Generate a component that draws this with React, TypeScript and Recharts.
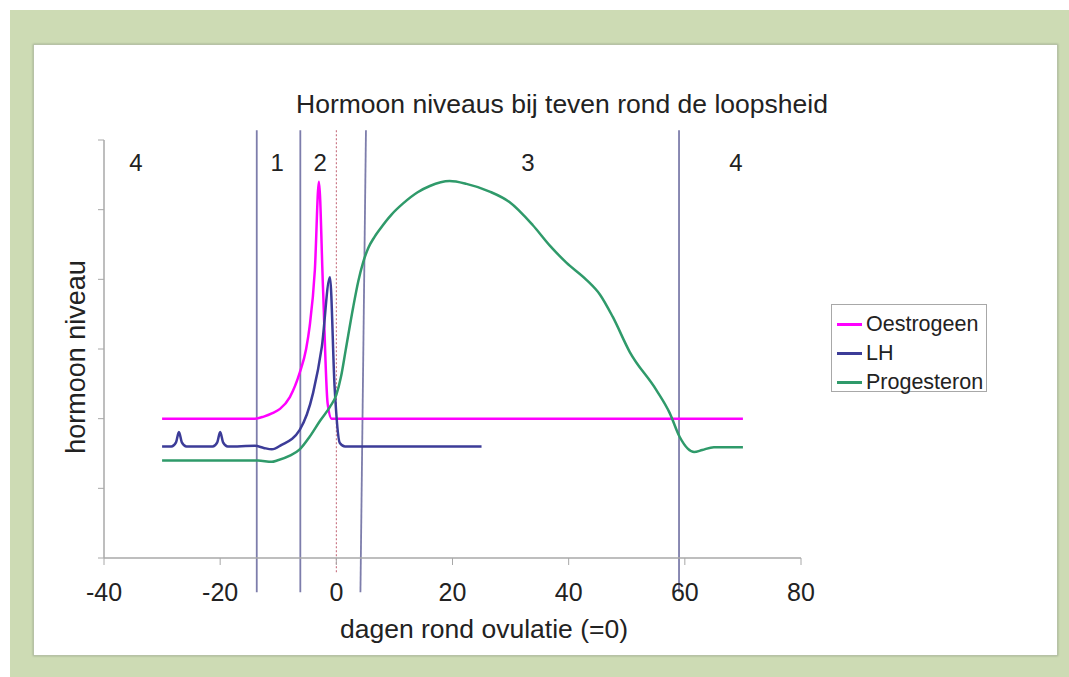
import {
  LineChart,
  Line,
  XAxis,
  YAxis,
  Legend,
  ReferenceLine,
  ReferenceDot,
} from "recharts";

const FONT = '"Liberation Sans", Arial, sans-serif';

const xTicks = [-40, -20, 0, 20, 40, 60, 80];
const yTicks = [0, 1, 2, 3, 4, 5, 6];

const seriesNames = ["Oestrogeen", "LH", "Progesteron"];
const seriesColors = ["#ff00ff", "#3c3c98", "#2f9a6a"];

const oestrogeen = [
  { x: -30, y: 2.0 }, { x: -14, y: 2.0 }, { x: -12.5, y: 2.03 }, { x: -11, y: 2.08 },
  { x: -9.7, y: 2.14 }, { x: -8, y: 2.31 }, { x: -6.3, y: 2.66 }, { x: -5.2, y: 3.0 },
  { x: -4.6, y: 3.32 }, { x: -3.7, y: 4.13 }, { x: -3.0, y: 5.4 }, { x: -2.3, y: 3.89 },
  { x: -1.5, y: 2.22 }, { x: -0.8, y: 2.0 }, { x: 70, y: 2.0 },
];

const lh = [
  { x: -30, y: 1.6 }, { x: -28.4, y: 1.6 }, { x: -27.6, y: 1.66 }, { x: -27.1, y: 1.81 },
  { x: -26.6, y: 1.66 }, { x: -25.8, y: 1.6 }, { x: -21.3, y: 1.6 }, { x: -20.5, y: 1.66 },
  { x: -20.0, y: 1.81 }, { x: -19.5, y: 1.66 }, { x: -18.7, y: 1.6 }, { x: -14, y: 1.61 },
  { x: -12.5, y: 1.58 }, { x: -11.1, y: 1.56 }, { x: -9.5, y: 1.62 }, { x: -6.3, y: 1.84 },
  { x: -4.0, y: 2.37 }, { x: -2.5, y: 3.03 }, { x: -1.1, y: 4.03 }, { x: -0.3, y: 2.46 },
  { x: 0.6, y: 1.65 }, { x: 1.5, y: 1.6 }, { x: 25, y: 1.6 },
];

const progesteron = [
  { x: -30, y: 1.4 }, { x: -13.5, y: 1.4 }, { x: -11.1, y: 1.38 }, { x: -10.2, y: 1.4 },
  { x: -8, y: 1.47 }, { x: -6.3, y: 1.56 }, { x: -4.6, y: 1.74 }, { x: -2.8, y: 1.97 },
  { x: -1.1, y: 2.17 }, { x: 0, y: 2.34 }, { x: 0.8, y: 2.6 }, { x: 1.6, y: 2.98 },
  { x: 2.9, y: 3.6 }, { x: 3.8, y: 3.98 }, { x: 4.6, y: 4.24 }, { x: 5.5, y: 4.45 },
  { x: 6.5, y: 4.6 }, { x: 7.5, y: 4.72 }, { x: 9.5, y: 4.93 }, { x: 11.5, y: 5.09 },
  { x: 14, y: 5.25 }, { x: 16.1, y: 5.34 }, { x: 19.5, y: 5.41 }, { x: 22.4, y: 5.37 },
  { x: 26.4, y: 5.26 }, { x: 29.8, y: 5.11 }, { x: 33.8, y: 4.78 }, { x: 36.8, y: 4.48 },
  { x: 39.6, y: 4.24 }, { x: 43.1, y: 3.99 }, { x: 45.4, y: 3.78 }, { x: 47.6, y: 3.46 },
  { x: 50.5, y: 2.96 }, { x: 55.1, y: 2.41 }, { x: 57.4, y: 2.08 }, { x: 59.1, y: 1.74 },
  { x: 60.5, y: 1.57 }, { x: 61.6, y: 1.52 }, { x: 63, y: 1.55 }, { x: 65, y: 1.59 },
  { x: 70, y: 1.59 },
];

const seriesData = [oestrogeen, lh, progesteron];

// phase boundaries: x at top, x at bottom
const phaseTop = [-13.7, -6.2, 5.1, 59.0];
const phaseBottom = [-13.7, -6.2, 4.15, 59.0];
const ovulationDay = 0;

const phaseLabels = ["4", "1", "2", "3", "4"];
const phaseLabelX = [-34.5, -10.2, -2.8, 33.0, 68.8];
const phaseLabelY = 5.68;

const renderLegend = () => (
  <div
    style={{
      width: 156,
      height: 88,
      boxSizing: "border-box",
      border: "1px solid #a8a8a8",
      background: "#fff",
      padding: "5px 0 0 5px",
      fontFamily: FONT,
      fontSize: 21.5,
      color: "#222",
    }}
  >
    {seriesNames.map((n, i) => (
      <div key={n} style={{ display: "flex", alignItems: "center", height: 29 }}>
        <span
          style={{
            display: "inline-block",
            width: 25,
            height: 2.5,
            background: seriesColors[i],
            marginRight: 4,
          }}
        />
        {n}
      </div>
    ))}
  </div>
);

export default function App() {
  return (
    <div
      style={{
        position: "absolute",
        left: 0,
        top: 0,
        width: 1069,
        height: 677,
        background: "#fff",
        overflow: "hidden",
      }}
    >
      <div style={{ position: "absolute", left: 10, top: 10, right: 0, bottom: 0, background: "#cddbb4" }} />
      <div
        style={{
          position: "absolute",
          left: 33,
          top: 44,
          width: 1025,
          height: 612,
          background: "#fff",
          border: "1px solid #b7c2a6",
          boxShadow: "0 0 2px #9aa88a",
          boxSizing: "border-box",
        }}
      />
      <div style={{ position: "absolute", left: 0, top: 0 }}>
        <LineChart
          width={1069}
          height={677}
          margin={{ top: 140, right: 268, bottom: 89, left: 44 }}
        >
          <XAxis
            type="number"
            dataKey="x"
            domain={[-40, 80]}
            ticks={xTicks}
            axisLine={{ stroke: "#a8a8a8", strokeWidth: 1.5 }}
            tickLine={{ stroke: "#a8a8a8" }}
            tickSize={7}
            tickMargin={18}
            tick={{ fontSize: 25, fill: "#222", fontFamily: FONT }}
            height={30}
          />
          <YAxis
            type="number"
            domain={[0, 6]}
            ticks={yTicks}
            width={60}
            axisLine={{ stroke: "#a8a8a8", strokeWidth: 1.5 }}
            tickLine={{ stroke: "#a8a8a8" }}
            tickSize={6}
            tickFormatter={() => ""}
          />
          <Legend
            layout="horizontal"
            verticalAlign="middle"
            align="center"
            content={renderLegend}
            wrapperStyle={{ left: 831, top: 304, width: 156, height: 88 }}
          />
          {phaseTop.map((xt, i) => (
            <ReferenceLine
              key={i}
              segment={[
                { x: xt, y: 6.14 },
                { x: phaseBottom[i], y: -0.49 },
              ]}
              ifOverflow="visible"
              stroke="#7d7dab"
              strokeWidth={1.8}
            />
          ))}
          <ReferenceLine
            segment={[
              { x: ovulationDay, y: 6.14 },
              { x: ovulationDay, y: -0.22 },
            ]}
            ifOverflow="visible"
            stroke="#c06070"
            strokeWidth={1}
            strokeDasharray="2 2"
          />
          {phaseLabels.map((l, i) => (
            <ReferenceDot
              key={i}
              x={phaseLabelX[i]}
              y={phaseLabelY}
              r={0}
              fill="none"
              stroke="none"
              ifOverflow="visible"
              label={{ value: l, position: "center", fontSize: 24, fill: "#222", fontFamily: FONT }}
            />
          ))}
          {seriesData.map((d, i) => (
            <Line
              key={seriesNames[i]}
              data={d}
              dataKey="y"
              name={seriesNames[i]}
              type="monotone"
              stroke={seriesColors[i]}
              strokeWidth={2.5}
              dot={false}
              activeDot={false}
              isAnimationActive={false}
            />
          ))}
        </LineChart>
      </div>
      <svg
        width={1069}
        height={677}
        style={{ position: "absolute", left: 0, top: 0, pointerEvents: "none" }}
        fontFamily={FONT}
        fill="#222"
      >
        <text x={562} y={113} textAnchor="middle" fontSize={26.5}>
          Hormoon niveaus bij teven rond de loopsheid
        </text>
        <text x={484} y={638} textAnchor="middle" fontSize={26.5}>
          dagen rond ovulatie (=0)
        </text>
        <text transform="translate(85,357) rotate(-90)" textAnchor="middle" fontSize={27}>
          hormoon niveau
        </text>
      </svg>
    </div>
  );
}
